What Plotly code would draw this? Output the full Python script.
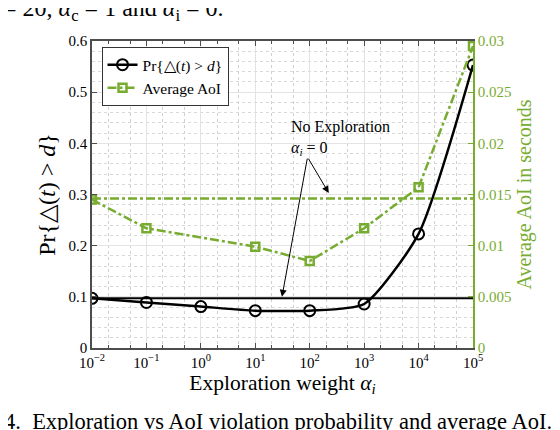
import plotly.graph_objects as go

# exploration weights (log scale)
alpha = [1e-2, 1e-1, 1e0, 1e1, 1e2, 1e3, 1e4, 1e5]
pr_violation = [0.097, 0.089, 0.081, 0.073, 0.073, 0.086, 0.223, 0.553]

alpha_aoi = [1e-2, 1e-1, 1e1, 1e2, 1e3, 1e4, 1e5]
avg_aoi = [0.0145, 0.0117, 0.0099, 0.0085, 0.0117, 0.0157, 0.0295]

# no exploration baselines
x_base = [1e-2, 1e5]
pr_base = [0.097, 0.097]
aoi_base = [0.0146, 0.0146]

x_ticks = [1e-2, 1e-1, 1e0, 1e1, 1e2, 1e3, 1e4, 1e5]
x_ticktext = ['10<sup>−2</sup>', '10<sup>−1</sup>', '10<sup>0</sup>', '10<sup>1</sup>',
              '10<sup>2</sup>', '10<sup>3</sup>', '10<sup>4</sup>', '10<sup>5</sup>']

GREEN = '#77AC30'
AXIS = '#4d4d4d'
FONT = 'Liberation Serif'

fig = go.Figure()

fig.add_trace(go.Scatter(
    x=x_base, y=aoi_base, yaxis='y2', mode='lines',
    line=dict(color=GREEN, width=2.5, dash='dashdot'),
    showlegend=False, hoverinfo='skip'))

fig.add_trace(go.Scatter(
    x=alpha_aoi, y=avg_aoi, yaxis='y2', mode='lines+markers',
    name='Average AoI', legendrank=2,
    line=dict(color=GREEN, width=2.5, dash='dashdot'),
    marker=dict(symbol='square-open', size=8, color=GREEN, line=dict(width=2.5))))

fig.add_trace(go.Scatter(
    x=x_base, y=pr_base, mode='lines',
    line=dict(color='black', width=2),
    showlegend=False, hoverinfo='skip'))

fig.add_trace(go.Scatter(
    x=alpha, y=pr_violation, mode='lines+markers',
    name='Pr{△(<i>t</i>) > <i>d</i>}', legendrank=1,
    line=dict(color='black', width=2.5, shape='spline', smoothing=0.6),
    marker=dict(symbol='circle-open', size=11, color='black', line=dict(width=2))))

# "No Exploration" arrows
tail = (1.96, 0.373)
for hx, hy in [(2.35, 0.303), (1.49, 0.100)]:
    fig.add_annotation(x=hx, y=hy, ax=tail[0], ay=tail[1], xref='x', yref='y',
                       axref='x', ayref='y', text='', showarrow=True,
                       arrowhead=2, arrowsize=1.4, arrowwidth=1, arrowcolor='black')

fig.add_annotation(x=1.62, y=0.41, xref='x', yref='y', xanchor='left', yanchor='middle',
                   text='No Exploration<br><i>α<sub>i</sub></i> = 0', align='left',
                   showarrow=False, font=dict(family=FONT, size=16, color='black'))

# caption fragments of the paper page
fig.add_annotation(x=-0.24, y=1.10, xref='paper', yref='paper', xanchor='left', yanchor='middle',
                   text='= 20, <i>α</i><sub>c</sub> = 1 and <i>α</i><sub>i</sub> = 0.',
                   showarrow=False, font=dict(family=FONT, size=24, color='black'))
fig.add_annotation(x=-0.235, y=-0.24, xref='paper', yref='paper', xanchor='left', yanchor='middle',
                   text='4.  Exploration vs AoI violation probability and average AoI.',
                   showarrow=False, font=dict(family=FONT, size=22.5, color='black'))

# page body adds an 8px offset, so the figure is 8px smaller than the window
fig.update_layout(
    width=552, height=422,
    margin=dict(l=84, r=87, t=33, b=82),
    paper_bgcolor='white', plot_bgcolor='white',
    font=dict(family=FONT, size=15, color='black'),
    showlegend=True,
    legend=dict(x=0.025, y=0.98, xanchor='left', yanchor='top',
                bgcolor='white', bordercolor='#333333', borderwidth=1,
                font=dict(family=FONT, size=15.5), tracegroupgap=0, itemwidth=30),
    xaxis=dict(
        type='log', range=[-2, 5],
        tickvals=x_ticks, ticktext=x_ticktext,
        ticks='inside', ticklen=5, tickcolor=AXIS,
        showline=True, linecolor=AXIS, linewidth=1.5, mirror='ticks',
        showgrid=True, gridcolor='#e3e3e3', gridwidth=1,
        minor=dict(ticks='inside', ticklen=3, tickcolor=AXIS, showgrid=True,
                   gridcolor='#d0d0d0', griddash='dot', gridwidth=1),
        zeroline=False,
        title=dict(text='Exploration weight <i>α<sub>i</sub></i>', font=dict(size=21.5), standoff=4),
    ),
    yaxis=dict(
        range=[0, 0.6], dtick=0.1,
        ticks='inside', ticklen=5, tickcolor=AXIS,
        showline=True, linecolor=AXIS, linewidth=1.5,
        showgrid=True, gridcolor='#e3e3e3', gridwidth=1,
        minor=dict(dtick=0.02, showgrid=True, gridcolor='#d8d8d8', griddash='dot', gridwidth=1),
        zeroline=False,
        title=dict(text='Pr{△(<i>t</i>) > <i>d</i>}', font=dict(size=24), standoff=6),
    ),
    yaxis2=dict(
        range=[0, 0.03], dtick=0.005, overlaying='y', side='right',
        ticks='inside', ticklen=5, tickcolor=GREEN,
        showline=True, linecolor=GREEN, linewidth=1.5,
        showgrid=False, zeroline=False,
        tickfont=dict(color=GREEN),
        title=dict(text='Average AoI in seconds', font=dict(size=20, color=GREEN), standoff=6),
    ),
)

fig.write_html("out.html")
